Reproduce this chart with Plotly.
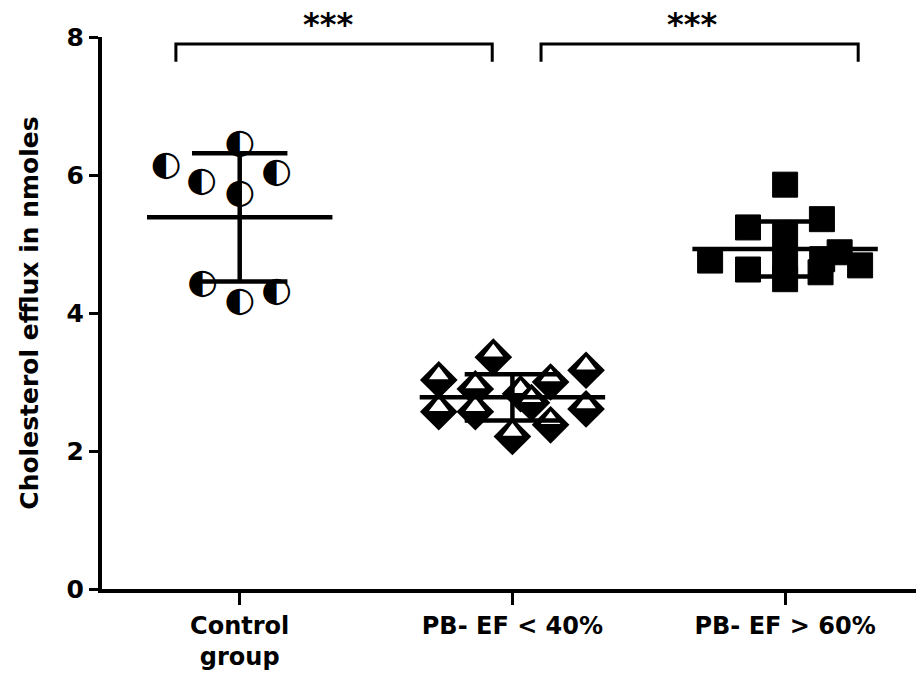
import numpy as np
import plotly.graph_objects as go

categories = ["Control<br>group", "PB- EF < 40%", "PB- EF > 60%"]

control_values = [6.13, 6.44, 5.89, 6.03, 5.72, 4.42, 4.30, 4.16]
control_offsets = [-0.27, 0.0, -0.14, 0.135, 0.0, -0.136, 0.135, 0.0]

low_ef_values = [3.36, 3.03, 2.90, 2.57, 2.57, 2.21, 3.17, 3.00, 2.61, 2.38, 2.83, 2.70]
low_ef_offsets = [-0.07, -0.27, -0.136, -0.27, -0.136, 0.0, 0.27, 0.14, 0.27, 0.14, 0.03, 0.07]

high_ef_values = [5.86, 5.36, 5.24, 4.76, 4.63, 5.12, 4.73, 4.49, 4.78, 4.88, 4.69, 4.59]
high_ef_offsets = [0.0, 0.135, -0.136, -0.275, -0.136, 0.0, 0.0, 0.0, 0.136, 0.2, 0.275, 0.13]

y_ticks = [0, 2, 4, 6, 8]
significance = ["***", "***"]
brackets = [(-0.234, 0.926), (1.105, 2.268)]
sig_label_x = [0.324, 1.658]

FONT = "DejaVu Sans"
Y_MAX = 8

fig = go.Figure()

# control: half-filled circles (text glyph)
fig.add_trace(go.Scatter(
    x=[0 + o for o in control_offsets], y=control_values, mode="text",
    text=["\u25D0"] * len(control_values),
    textfont=dict(family=FONT, size=35, color="black"),
    textposition="middle center", showlegend=False, cliponaxis=False))

# low EF: diamonds, lower half black / upper half white (drawn point by point)
for xo, v in zip(low_ef_offsets, low_ef_values):
    fig.add_trace(go.Scatter(
        x=[1 + xo], y=[v], mode="markers",
        marker=dict(symbol="diamond", size=29, color="black", line=dict(width=0)),
        showlegend=False))
    fig.add_trace(go.Scatter(
        x=[1 + xo], y=[v], mode="markers",
        marker=dict(symbol="triangle-down", size=17, angle=180, standoff=5,
                    color="white", line=dict(width=0)),
        showlegend=False, hoverinfo="skip"))

# high EF: squares
fig.add_trace(go.Scatter(
    x=[2 + o for o in high_ef_offsets], y=high_ef_values, mode="markers",
    marker=dict(symbol="square", size=25, color="black",
                line=dict(color="black", width=1)),
    showlegend=False))

# mean and SD lines
for i, vals in enumerate([control_values, low_ef_values, high_ef_values]):
    m = float(np.mean(vals))
    s = float(np.std(vals, ddof=1))
    line = dict(color="black", width=4.5)
    fig.add_trace(go.Scatter(x=[i - 0.34, i + 0.34], y=[m, m], mode="lines",
                             line=line, showlegend=False, hoverinfo="skip"))
    fig.add_trace(go.Scatter(x=[i - 0.175, i + 0.175], y=[m + s, m + s], mode="lines",
                             line=line, showlegend=False, hoverinfo="skip"))
    fig.add_trace(go.Scatter(x=[i - 0.175, i + 0.175], y=[m - s, m - s], mode="lines",
                             line=line, showlegend=False, hoverinfo="skip"))
    fig.add_trace(go.Scatter(x=[i, i], y=[m - s, m + s], mode="lines",
                             line=line, showlegend=False, hoverinfo="skip"))

# significance brackets
for (x0, x1), lx, label in zip(brackets, sig_label_x, significance):
    fig.add_trace(go.Scatter(x=[x0, x0, x1, x1], y=[7.64, 7.9, 7.9, 7.64], mode="lines",
                             line=dict(color="black", width=3), showlegend=False,
                             hoverinfo="skip"))
    fig.add_annotation(x=lx, y=8.19 / Y_MAX, text=label, showarrow=False,
                       font=dict(family=FONT, size=32, color="black", weight="bold"),
                       xref="x", yref="paper", yanchor="middle")

fig.update_layout(
    width=916, height=682,
    margin=dict(l=102, r=0, t=37, b=93),
    paper_bgcolor="white", plot_bgcolor="white",
    font=dict(family=FONT, color="black"),
)
fig.update_xaxes(
    range=[-0.505, 2.48], tickmode="array", tickvals=[0, 1, 2], ticktext=categories,
    showline=True, linecolor="black", linewidth=4, ticks="outside", ticklen=12,
    tickwidth=3, tickcolor="black", showgrid=False, zeroline=False,
    tickfont=dict(family=FONT, size=24, color="black", weight="bold"))
fig.update_yaxes(
    range=[0, Y_MAX], tickvals=y_ticks, showline=True, linecolor="black", linewidth=4,
    ticks="outside", ticklen=9, tickwidth=3, tickcolor="black", showgrid=False,
    zeroline=False,
    tickfont=dict(family=FONT, size=25, color="black", weight="bold"),
    title=dict(text="Cholesterol efflux in nmoles",
               font=dict(family=FONT, size=25, color="black", weight="bold"),
               standoff=22))

fig.write_html("out.html")
